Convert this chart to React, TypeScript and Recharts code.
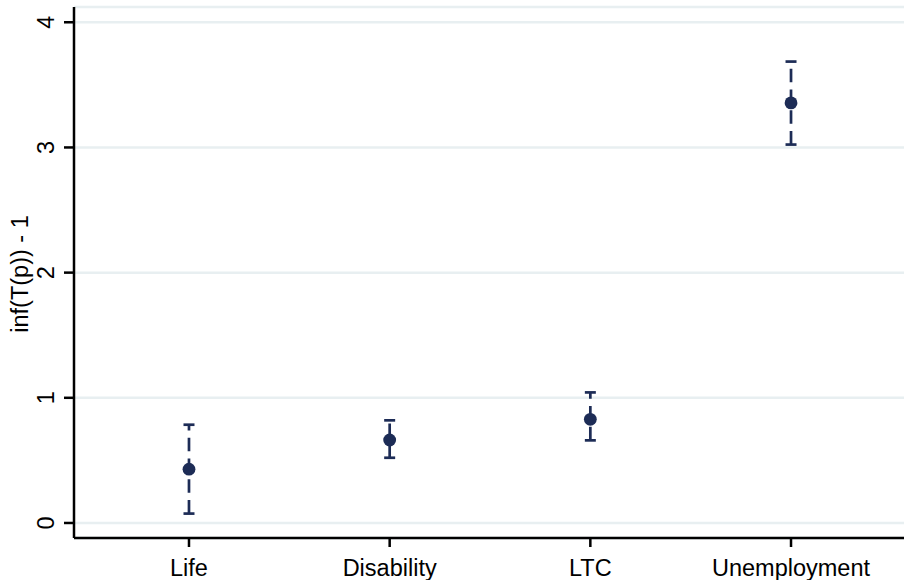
import React from "react";
import { ComposedChart, Scatter, ErrorBar, XAxis, YAxis, CartesianGrid } from "recharts";

const categories = ["Life", "Disability", "LTC", "Unemployment"];
const positions = [1, 2, 3, 4];
const estimates = [0.43, 0.663, 0.828, 3.356];
const lowerCI = [0.075, 0.521, 0.66, 3.023];
const upperCI = [0.785, 0.82, 1.043, 3.686];
const yTicks = [0, 1, 2, 3, 4];
const yLabel = "inf(T(p)) - 1";

const data = categories.map((c, i) => ({
  name: c,
  pos: positions[i],
  est: estimates[i],
  err: [estimates[i] - lowerCI[i], upperCI[i] - estimates[i]],
}));

const NAVY = "#1d2c56";
const FONT = "'Liberation Sans', Arial, Helvetica, sans-serif";
const FS = 23.5;

const XTick = (props: any) => {
  const { x, y, payload } = props;
  const idx = positions.indexOf(payload.value);
  return (
    <text x={x} y={y} dy={29} textAnchor="middle" fontFamily={FONT} fontSize={FS} fill="#000">
      {idx >= 0 ? categories[idx] : ""}
    </text>
  );
};

const YTick = (props: any) => {
  const { x, y, payload } = props;
  return (
    <text
      x={x}
      y={y}
      textAnchor="middle"
      transform={`rotate(-90, ${x}, ${y})`}
      fontFamily={FONT}
      fontSize={FS}
      fill="#000"
    >
      {payload.value}
    </text>
  );
};

const YLabel = (props: any) => {
  const vb = props.viewBox || {};
  const cx = (vb.x || 0) + 27.5;
  const cy = (vb.y || 0) + (vb.height || 0) / 2 + 1.5;
  return (
    <text
      x={cx}
      y={cy}
      textAnchor="middle"
      transform={`rotate(-90, ${cx}, ${cy})`}
      fontFamily={FONT}
      fontSize={FS}
      fill="#000"
    >
      {yLabel}
    </text>
  );
};

const Dot = (props: any) => {
  const { cx, cy } = props;
  return <circle cx={cx} cy={cy} r={6.4} fill={NAVY} />;
};

export default function App() {
  return (
    <div style={{ position: "absolute", left: 0, top: 0, width: 904, height: 580, background: "#fff" }}>
      <ComposedChart width={904} height={580} data={data} margin={{ top: 7, right: 0, bottom: 0, left: 0 }}>
        <CartesianGrid horizontal vertical={false} stroke="#e8eff1" strokeWidth={2.5} />
        <XAxis
          dataKey="pos"
          type="number"
          domain={[0.427, 4.563]}
          ticks={positions}
          allowDataOverflow
          height={42}
          tickSize={9}
          tickMargin={0}
          tick={<XTick />}
          axisLine={{ stroke: "#000", strokeWidth: 2.5 }}
          tickLine={{ stroke: "#000", strokeWidth: 2.5 }}
        />
        <YAxis
          type="number"
          domain={[-0.12, 4.122]}
          ticks={yTicks}
          allowDataOverflow
          width={74}
          tickSize={10}
          tickMargin={10}
          tick={<YTick />}
          axisLine={{ stroke: "#000", strokeWidth: 2.5 }}
          tickLine={{ stroke: "#000", strokeWidth: 2.5 }}
          label={{ content: <YLabel /> } as any}
        />
        <Scatter dataKey="est" isAnimationActive={false} shape={<Dot />}>
          <ErrorBar
            dataKey="err"
            direction="y"
            width={5.5}
            stroke={NAVY}
            strokeWidth={2.7}
            strokeDasharray="13.5 7.3"
            isAnimationActive={false}
          />
        </Scatter>
      </ComposedChart>
    </div>
  );
}
